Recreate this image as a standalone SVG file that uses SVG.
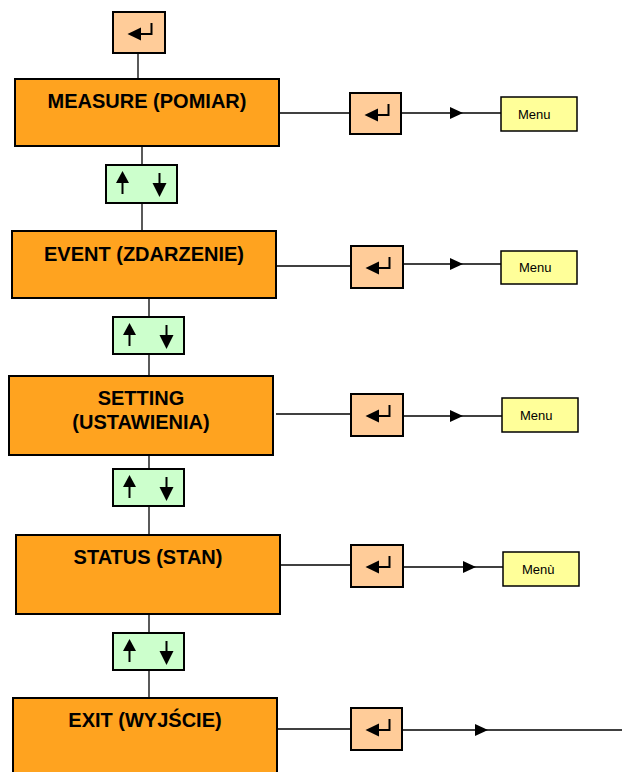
<svg xmlns="http://www.w3.org/2000/svg" xmlns:xlink="http://www.w3.org/1999/xlink" width="622" height="772" viewBox="0 0 622 772">
<style>
.main{fill:#FFA31F;stroke:#000;stroke-width:2}
.enter{fill:#FFCC99;stroke:#000;stroke-width:2}
.ud{fill:#CCFFCC;stroke:#000;stroke-width:2}
.menu{fill:#FFFF99;stroke:#000;stroke-width:1.5}
.lbl{font-family:"Liberation Sans",Arial,sans-serif;font-weight:bold;font-size:20px;fill:#000;text-anchor:middle}
.mtxt{font-family:"Liberation Sans",Arial,sans-serif;font-size:13px;fill:#000}
.conn{fill:none;stroke:#000;stroke-width:1.3}
.arr{fill:none;stroke:#000;stroke-width:1.3;marker-mid:url(#ah)}
</style>
<defs>
<marker id="ah" markerUnits="userSpaceOnUse" markerWidth="13" markerHeight="12" viewBox="0 0 13 12" refX="13" refY="6" orient="auto">
<path d="M0,0 L13,6 L0,12 z" fill="#000"/>
</marker>
<g id="enterIcon">
<polygon points="14.5,22 28,15.5 28,28.5" fill="#000"/>
<polyline points="27,22 38.5,22 38.5,11" fill="none" stroke="#000" stroke-width="2"/>
</g>
<g id="udIcon">
<polygon points="16.5,6 10,18 23,18" fill="#000"/>
<line x1="16.5" y1="17" x2="16.5" y2="29" stroke="#000" stroke-width="2"/>
<polygon points="46.5,18 60.5,18 53.5,32" fill="#000"/>
<line x1="53.5" y1="8" x2="53.5" y2="19" stroke="#000" stroke-width="2"/>
</g>
</defs>
<g id="connectors">
<path class="conn" d="M138,53 V79"/>
<path class="conn" d="M142,146 V165"/>
<path class="conn" d="M142,203 V231"/>
<path class="conn" d="M149,298 V317"/>
<path class="conn" d="M149,354 V376"/>
<path class="conn" d="M149,455 V469"/>
<path class="conn" d="M149,506 V535"/>
<path class="conn" d="M149,614 V633"/>
<path class="conn" d="M149,670 V698"/>
<path class="conn" d="M277,113 H350"/>
<path class="arr" d="M401,113 L463,113 L501,113"/>
<path class="conn" d="M276,266 H351"/>
<path class="arr" d="M403,264 L463,264 L501,264"/>
<path class="conn" d="M276,414 H351"/>
<path class="arr" d="M403,416 L463,416 L502,416"/>
<path class="conn" d="M280,565 H351"/>
<path class="arr" d="M403,567 L476,567 L503,567"/>
<path class="conn" d="M277,729 H351"/>
<path class="arr" d="M402,730 L488,730 L622,730"/>
</g>
<g id="enter-top"><rect class="enter" x="113" y="12" width="52" height="41"/><use xlink:href="#enterIcon" x="113" y="12"/></g>
<g id="measure"><rect class="main" x="15" y="79" width="264" height="67"/><text class="lbl" x="147" y="108">MEASURE (POMIAR)</text></g>
<g id="ud1"><rect class="ud" x="106" y="165" width="71" height="38"/><use xlink:href="#udIcon" x="106" y="165"/></g>
<g id="event"><rect class="main" x="12" y="231" width="264" height="67"/><text class="lbl" x="144" y="261">EVENT (ZDARZENIE)</text></g>
<g id="ud2"><rect class="ud" x="113" y="317" width="71" height="37"/><use xlink:href="#udIcon" x="113" y="317"/></g>
<g id="setting"><rect class="main" x="9" y="376" width="264" height="79"/><text class="lbl" x="141" y="405">SETTING</text><text class="lbl" x="141" y="429">(USTAWIENIA)</text></g>
<g id="ud3"><rect class="ud" x="113" y="469" width="71" height="37"/><use xlink:href="#udIcon" x="113" y="469"/></g>
<g id="status"><rect class="main" x="16" y="535" width="264" height="79"/><text class="lbl" x="148" y="564">STATUS (STAN)</text></g>
<g id="ud4"><rect class="ud" x="113" y="633" width="71" height="37"/><use xlink:href="#udIcon" x="113" y="633"/></g>
<g id="exit"><rect class="main" x="13" y="698" width="264" height="84"/><text class="lbl" x="145" y="727">EXIT (WYJŚCIE)</text></g>
<g id="enter1"><rect class="enter" x="350" y="93" width="51" height="41"/><use xlink:href="#enterIcon" x="350" y="93"/></g>
<g id="enter2"><rect class="enter" x="351" y="246" width="52" height="42"/><use xlink:href="#enterIcon" x="351" y="246"/></g>
<g id="enter3"><rect class="enter" x="351" y="394" width="52" height="42"/><use xlink:href="#enterIcon" x="351" y="394"/></g>
<g id="enter4"><rect class="enter" x="351" y="545" width="52" height="42"/><use xlink:href="#enterIcon" x="351" y="545"/></g>
<g id="enter5"><rect class="enter" x="351" y="708" width="51" height="42"/><use xlink:href="#enterIcon" x="351" y="708"/></g>
<g id="menu1"><rect class="menu" x="501" y="97" width="76" height="34"/><text class="mtxt" x="518" y="119">Menu</text></g>
<g id="menu2"><rect class="menu" x="501" y="251" width="76" height="33"/><text class="mtxt" x="519" y="272">Menu</text></g>
<g id="menu3"><rect class="menu" x="502" y="398" width="76" height="34"/><text class="mtxt" x="520" y="420">Menu</text></g>
<g id="menu4"><rect class="menu" x="503" y="552" width="76" height="34"/><text class="mtxt" x="522" y="574">Menù</text></g>
</svg>
